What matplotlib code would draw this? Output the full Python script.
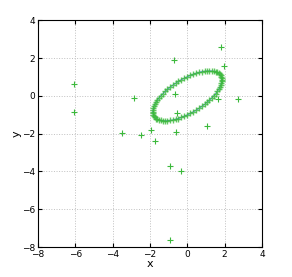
import matplotlib
matplotlib.use('Agg')
import matplotlib.pyplot as plt

# points on the fitted ellipse
ell_x = [1.85, 1.84, 1.82, 1.79, 1.74, 1.68, 1.60, 1.52, 1.42, 1.31, 1.19, 1.06,
         0.93, 0.78, 0.63, 0.48, 0.32, 0.16, 0.00, -0.16, -0.32, -0.48, -0.63, -0.78,
         -0.93, -1.06, -1.19, -1.31, -1.42, -1.52, -1.60, -1.68, -1.74, -1.79, -1.82, -1.84,
         -1.85, -1.84, -1.82, -1.79, -1.74, -1.68, -1.60, -1.52, -1.42, -1.31, -1.19, -1.06,
         -0.93, -0.78, -0.63, -0.48, -0.32, -0.16, 0.00, 0.16, 0.32, 0.48, 0.63, 0.78,
         0.93, 1.06, 1.19, 1.31, 1.42, 1.52, 1.60, 1.68, 1.74, 1.79, 1.82, 1.84]
ell_y = [0.85, 0.93, 1.01, 1.08, 1.14, 1.20, 1.24, 1.28, 1.30, 1.31, 1.32, 1.31,
         1.30, 1.28, 1.24, 1.20, 1.14, 1.08, 1.01, 0.93, 0.85, 0.76, 0.66, 0.56,
         0.45, 0.34, 0.23, 0.11, 0.00, -0.11, -0.23, -0.34, -0.45, -0.56, -0.66, -0.76,
         -0.85, -0.93, -1.01, -1.08, -1.14, -1.20, -1.24, -1.28, -1.30, -1.31, -1.32, -1.31,
         -1.30, -1.28, -1.24, -1.20, -1.14, -1.08, -1.01, -0.93, -0.85, -0.76, -0.66, -0.56,
         -0.45, -0.34, -0.23, -0.11, 0.00, 0.11, 0.23, 0.34, 0.45, 0.56, 0.66, 0.76]

# scattered outliers
out_x = [-6.05, -6.05, -2.83, -3.49, -2.49, -1.92, -1.74, -0.94, -0.32, -0.93,
         -0.71, -0.68, -0.57, -0.60, 1.07, 1.80, 1.99, 2.74, 1.62]
out_y = [0.60, -0.86, -0.10, -1.96, -2.08, -1.80, -2.38, -3.69, -3.97, -7.65,
         1.89, 0.09, -0.92, -1.89, -1.57, 2.57, 1.57, -0.16, -0.16]

green = '#3cb93c'

fig = plt.figure(figsize=(2.92, 2.77), dpi=100)
ax = fig.add_axes([0.130, 0.108, 0.767, 0.819])

ax.plot(ell_x + ell_x[:1], ell_y + ell_y[:1], '-', color='#6a8cff', lw=0.8)
ax.plot(ell_x, ell_y, '+', color=green, ms=5, mew=1.0, alpha=0.8)
ax.plot(out_x, out_y, '+', color=green, ms=4.5, mew=0.8)

ax.set_xlim(-8, 4)
ax.set_ylim(-8, 4)
ax.set_xticks(range(-8, 5, 2))
ax.set_yticks(range(-8, 5, 2))
ax.grid(True, linestyle=':', color='#c0c0c0', lw=0.7)
ax.tick_params(direction='in', length=3, labelsize=6.5, top=True, right=True, pad=2)
ax.set_xlabel('x', fontsize=8, labelpad=0)
ax.set_ylabel('y', fontsize=8, labelpad=0)

fig.savefig('out.png', dpi=100)
